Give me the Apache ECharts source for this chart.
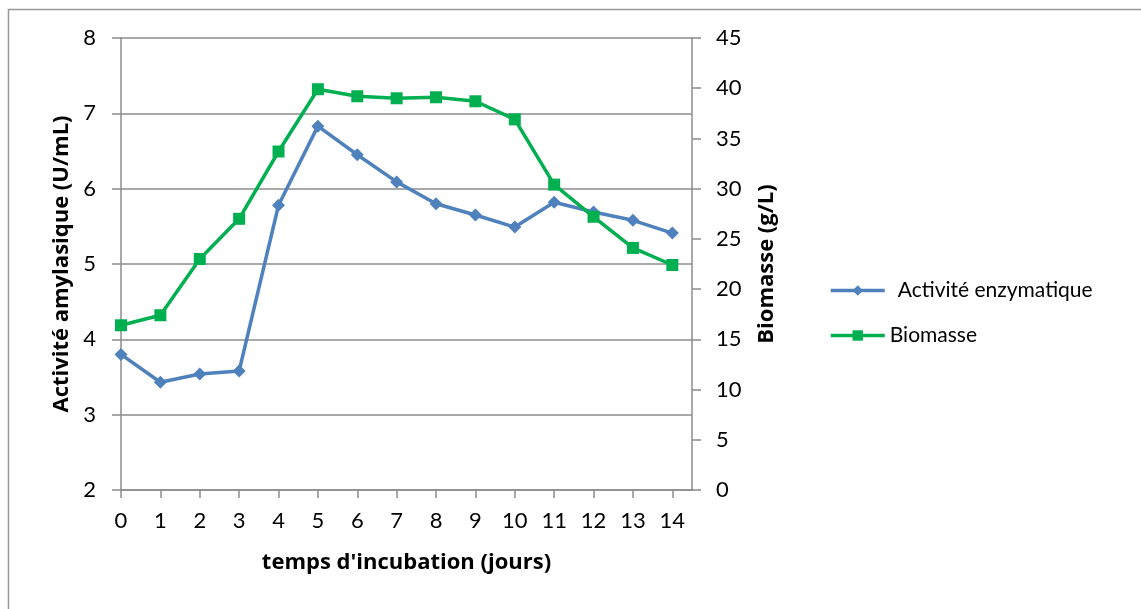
<!DOCTYPE html>
<html>
<head>
<meta charset="utf-8">
<script src="https://cdn.jsdelivr.net/npm/echarts@6/dist/echarts.min.js"></script>
<style>
  html, body { margin: 0; padding: 0; background: #fff; }
  #main { width: 1141px; height: 609px; }
</style>
</head>
<body>
<div id="main"></div>
<script>
// jours d'incubation
var jours = [0, 1, 2, 3, 4, 5, 6, 7, 8, 9, 10, 11, 12, 13, 14];
// activité enzymatique (U/mL)
var activite = [3.80, 3.43, 3.54, 3.58, 5.78, 6.83, 6.45, 6.09, 5.80, 5.65, 5.49, 5.82, 5.69, 5.58, 5.41];
// biomasse (g/L)
var biomasse = [16.4, 17.4, 23.0, 27.0, 33.7, 39.9, 39.2, 39.0, 39.1, 38.7, 36.9, 30.4, 27.2, 24.1, 22.4];

var fontName = 'Lato';
var titleFont = 'Open Sans';
var axisGray = '#8c8c8c';

function toPairs(ys) {
    var out = [];
    for (var i = 0; i < jours.length; i++) {
        out.push([jours[i], ys[i]]);
    }
    return out;
}

var chart = echarts.init(document.getElementById('main'));

var titleStyle = { fontSize: 22, fontWeight: 'bold', fontFamily: titleFont, color: '#000' };

var option = {
    backgroundColor: '#fff',
    animation: false,
    textStyle: { fontFamily: fontName, color: '#000' },
    graphic: [{
        type: 'rect',
        shape: { x: 8.5, y: 9.5, width: 1200, height: 700 },
        style: { fill: 'none', stroke: '#999', lineWidth: 1.5 }
    }],
    grid: { left: 121, right: 449, top: 38, bottom: 119 },
    legend: {
        orient: 'vertical',
        left: 824,
        top: 275,
        itemWidth: 54,
        itemHeight: 13,
        itemGap: 24,
        textStyle: { fontSize: 21, fontFamily: fontName, color: '#000' },
        data: [
            { name: 'Activité enzymatique', textStyle: { padding: [0, 0, 0, 8] }, lineStyle: { width: 3.5 } },
            { name: 'Biomasse', lineStyle: { width: 3.5 } }
        ]
    },
    xAxis: {
        type: 'value',
        min: 0,
        max: 14.5,
        interval: 1,
        name: "temps d'incubation (jours)",
        nameLocation: 'middle',
        nameGap: 62,
        nameTextStyle: titleStyle,
        axisLine: { lineStyle: { color: axisGray, width: 1.5 } },
        axisTick: { length: 8, lineStyle: { color: axisGray, width: 1.5 } },
        axisLabel: {
            fontSize: 22, color: '#000', margin: 20, showMaxLabel: false,
            formatter: function (v) { return (v % 1 === 0) ? String(v) : ''; }
        },
        splitLine: { show: false }
    },
    yAxis: [
        {
            type: 'value',
            min: 2,
            max: 8,
            interval: 1,
            name: 'Activité amylasique (U/mL)',
            nameLocation: 'middle',
            nameGap: 47,
            nameTextStyle: titleStyle,
            axisLine: { show: true, onZero: false, lineStyle: { color: axisGray, width: 1.5 } },
            axisTick: { show: true, length: 9, lineStyle: { color: axisGray, width: 1.5 } },
            axisLabel: { fontSize: 22, color: '#000', margin: 25 },
            splitLine: { show: true, lineStyle: { color: axisGray, width: 1.5 } }
        },
        {
            type: 'value',
            min: 0,
            max: 45,
            interval: 5,
            position: 'right',
            name: 'Biomasse (g/L)',
            nameLocation: 'middle',
            nameRotate: 90,
            nameGap: 64,
            nameTextStyle: titleStyle,
            axisLine: { show: true, onZero: false, lineStyle: { color: axisGray, width: 1.5 } },
            axisTick: { show: true, length: 9, lineStyle: { color: axisGray, width: 1.5 } },
            axisLabel: { fontSize: 22, color: '#000', margin: 24 },
            splitLine: { show: false }
        }
    ],
    series: [
        {
            name: 'Activité enzymatique',
            type: 'line',
            yAxisIndex: 0,
            data: toPairs(activite),
            symbol: 'diamond',
            symbolSize: 13,
            color: '#4f81bd',
            lineStyle: { width: 3.5, color: '#4f81bd' },
            itemStyle: { color: '#4f81bd' }
        },
        {
            name: 'Biomasse',
            type: 'line',
            yAxisIndex: 1,
            data: toPairs(biomasse),
            symbol: 'rect',
            symbolSize: 12,
            color: '#00b050',
            lineStyle: { width: 3.5, color: '#00b050' },
            itemStyle: { color: '#00b050' },
            z: 3
        }
    ]
};

chart.setOption(option);
</script>
</body>
</html>
